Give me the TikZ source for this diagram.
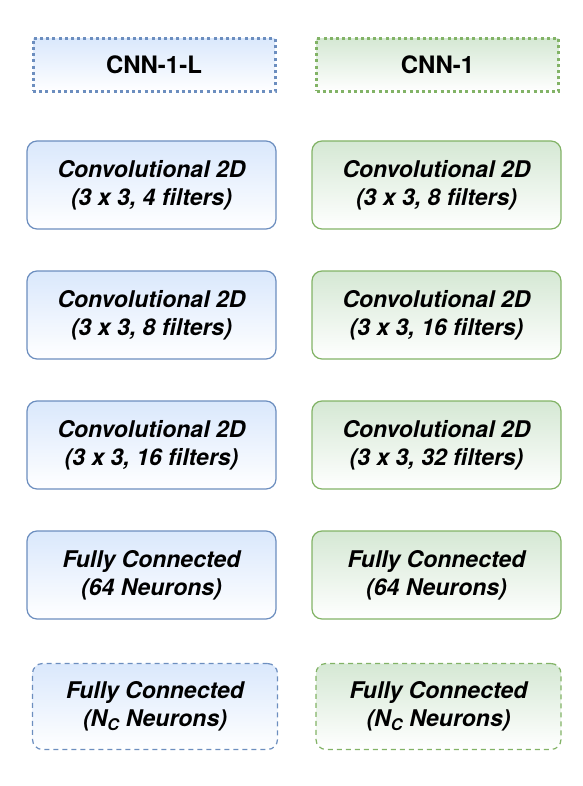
\documentclass[tikz,border=0pt]{standalone}
\usepackage{fontspec}
\setmainfont{TeX Gyre Heros}
\definecolor{blueline}{HTML}{6C8EBF}
\definecolor{bluefill}{HTML}{DAE8FC}
\definecolor{greenline}{HTML}{82B366}
\definecolor{greenfill}{HTML}{D5E8D4}
\tikzset{
  layer/.style={rounded corners=10pt, line width=1.2pt, minimum width=249pt, minimum height=88pt,
    align=center, font=\fontsize{23}{28}\selectfont\bfseries\itshape},
  bluelayer/.style={layer, draw=blueline, top color=bluefill, bottom color=white},
  greenlayer/.style={layer, draw=greenline, top color=greenfill, bottom color=white},
  title/.style={line width=3pt, dash pattern=on 3pt off 3.2pt, minimum width=242pt, minimum height=53pt,
    font=\fontsize{24}{28}\selectfont\bfseries},
  outlayer/.style={dash pattern=on 5pt off 4pt, minimum width=245pt, minimum height=86pt}
}
\begin{document}
\begin{tikzpicture}[x=1pt,y=1pt]
  \useasboundingbox (0,0) rectangle (582,-786);
  % headers
  \node[title, draw=blueline, top color=bluefill, bottom color=white] (hl) at (154,-65) {CNN-1-L};
  \node[title, draw=greenline, top color=greenfill, bottom color=white] (hr) at (437.5,-65) {CNN-1};
  % left column
  \node[bluelayer] (l1) at (151.5,-185) {Convolutional 2D\\(3 x 3, 4 filters)};
  \node[bluelayer] (l2) at (151.5,-315) {Convolutional 2D\\(3 x 3, 8 filters)};
  \node[bluelayer] (l3) at (151.5,-445) {Convolutional 2D\\(3 x 3, 16 filters)};
  \node[bluelayer] (l4) at (151.5,-575) {Fully Connected\\(64 Neurons)};
  \node[bluelayer, outlayer] (l5) at (155,-706.5) {Fully Connected\\(N\textsubscript{C} Neurons)};
  % right column
  \node[greenlayer] (r1) at (436.5,-185) {Convolutional 2D\\(3 x 3, 8 filters)};
  \node[greenlayer] (r2) at (436.5,-315) {Convolutional 2D\\(3 x 3, 16 filters)};
  \node[greenlayer] (r3) at (436.5,-445) {Convolutional 2D\\(3 x 3, 32 filters)};
  \node[greenlayer] (r4) at (436.5,-575) {Fully Connected\\(64 Neurons)};
  \node[greenlayer, outlayer] (r5) at (438.5,-706.5) {Fully Connected\\(N\textsubscript{C} Neurons)};
\end{tikzpicture}
\end{document}
